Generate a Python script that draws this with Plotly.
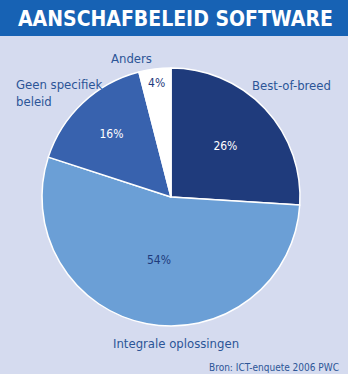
import plotly.graph_objects as go

categories = ["Best-of-breed", "Integrale oplossingen", "Geen specifiek beleid", "Anders"]
values = [26, 54, 16, 4]
pct_labels = ["26%", "54%", "16%", "4%"]
colors = ["#1f3b7c", "#6b9fd6", "#3862ae", "#ffffff"]
text_colors = ["#ffffff", "#1f3b7c", "#ffffff", "#1f3b7c"]

W, H = 348, 374
BG = "#d5dbef"
BANNER = "#1762b4"
LBL = "#2c5597"
FONT = "DejaVu Sans Condensed, Liberation Sans Narrow, Roboto Condensed, Arial Narrow, sans-serif"

cx, cy, r = 171, 197, 129

fig = go.Figure(go.Pie(
    labels=categories, values=values, text=pct_labels,
    texttemplate="%{text}", textposition="inside", insidetextorientation="horizontal",
    sort=False, direction="clockwise", rotation=0,
    marker=dict(colors=colors, line=dict(color="#ffffff", width=1.5)),
    textfont=dict(family=FONT, size=12, color=text_colors),
    showlegend=False, hoverinfo="skip",
    domain=dict(x=[(cx - r) / W, (cx + r) / W], y=[1 - (cy + r) / H, 1 - (cy - r) / H]),
))

def px(x):
    return x / W

def py(y):
    return 1 - y / H

annotations = [
    dict(text="AANSCHAFBELEID SOFTWARE", x=px(175), y=py(19), font=dict(family=FONT, size=21, color="white", weight="bold"), xanchor="center", yanchor="middle"),
    dict(text="Best-of-breed", x=px(250), y=py(85), font=dict(family=FONT, size=13, color=LBL), xanchor="left", yanchor="middle"),
    dict(text="Anders", x=px(131), y=py(59), font=dict(family=FONT, size=13, color=LBL), xanchor="center", yanchor="middle"),
    dict(text="Geen specifiek<br>beleid", x=px(14), y=py(93), font=dict(family=FONT, size=13, color=LBL), xanchor="left", yanchor="middle", align="left"),
    dict(text="Integrale oplossingen", x=px(176), y=py(343), font=dict(family=FONT, size=13, color=LBL), xanchor="center", yanchor="middle"),
    dict(text="Bron: ICT-enquete 2006 PWC", x=px(341), y=py(367), font=dict(family=FONT, size=10, color=LBL), xanchor="right", yanchor="middle"),
]
for a in annotations:
    a.update(xref="paper", yref="paper", showarrow=False)

fig.update_layout(
    width=W, height=H, margin=dict(l=0, r=0, t=0, b=0),
    paper_bgcolor=BG, plot_bgcolor=BG,
    shapes=[dict(type="rect", xref="paper", yref="paper", x0=0, x1=1, y0=py(36), y1=1, fillcolor=BANNER, line=dict(width=0), layer="below")],
    annotations=annotations,
    hovermode=False,
)

fig.write_html("out.html", config=dict(displayModeBar=False))
